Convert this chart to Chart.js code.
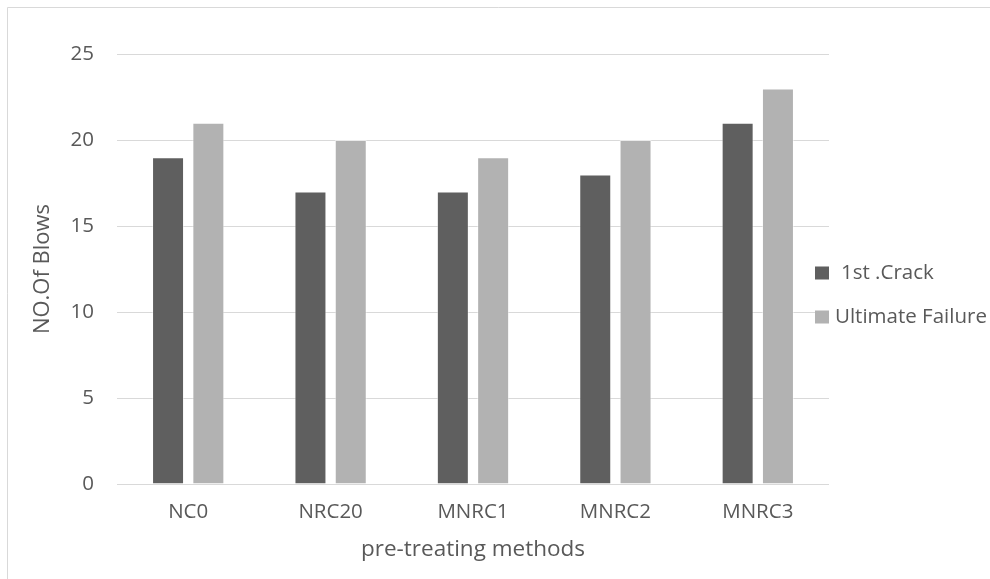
<!DOCTYPE html>
<html>
<head>
<meta charset="utf-8">
<script src="https://cdn.jsdelivr.net/npm/chart.js@4.4.1/dist/chart.umd.min.js"></script>
<style>
  html, body { margin: 0; padding: 0; background: #ffffff; }
  #wrap { width: 990px; height: 579px; position: relative; }
</style>
</head>
<body>
<div id="wrap"><canvas id="chart" width="990" height="579"></canvas></div>
<script>
// Number of blows per pre-treating method
const categories = ['NC0', 'NRC20', 'MNRC1', 'MNRC2', 'MNRC3'];
const firstCrack = [19, 17, 17, 18, 21];
const ultimateFailure = [21, 20, 19, 20, 23];
const seriesNames = ['1st .Crack', 'Ultimate Failure'];
const yTicks = [0, 5, 10, 15, 20, 25];

const FONT = '"Open Sans", "DejaVu Sans", sans-serif';
const TEXT = '#595959';

// Outer frame of the chart
const framePlugin = {
  id: 'frame',
  beforeDraw(chart) {
    const ctx = chart.ctx;
    ctx.save();
    ctx.fillStyle = '#ffffff';
    ctx.fillRect(0, 0, chart.width, chart.height);
    ctx.strokeStyle = '#d9d9d9';
    ctx.lineWidth = 1;
    ctx.beginPath();
    ctx.moveTo(7.5, chart.height);
    ctx.lineTo(7.5, 7.5);
    ctx.lineTo(chart.width, 7.5);
    ctx.stroke();
    ctx.restore();
  }
};

// Legend at the right, drawn from the datasets
const sideLegend = {
  id: 'sideLegend',
  afterDraw(chart) {
    const ctx = chart.ctx;
    const area = chart.chartArea;
    ctx.save();
    ctx.font = '20.5px ' + FONT;
    ctx.textBaseline = 'middle';
    ctx.textAlign = 'left';
    const textX = [841, 835];
    const midY = (area.top + area.bottom) / 2;
    chart.data.datasets.forEach((ds, i) => {
      const cy = midY + 4 + i * 44;
      ctx.fillStyle = ds.backgroundColor;
      ctx.fillRect(area.right - 14, cy - 6.5, 14, 13);
      ctx.fillStyle = TEXT;
      ctx.fillText(ds.label, textX[i], cy);
    });
    ctx.restore();
  }
};

new Chart(document.getElementById('chart'), {
  type: 'bar',
  data: {
    labels: categories,
    datasets: [
      {
        label: seriesNames[0],
        data: firstCrack,
        backgroundColor: '#5f5f5f',
        borderColor: 'rgba(255,255,255,0.45)',
        borderWidth: 1,
        categoryPercentage: 0.566,
        barPercentage: 0.794
      },
      {
        label: seriesNames[1],
        data: ultimateFailure,
        backgroundColor: '#b2b2b2',
        borderColor: 'rgba(255,255,255,0.45)',
        borderWidth: 1,
        categoryPercentage: 0.566,
        barPercentage: 0.794
      }
    ]
  },
  options: {
    responsive: false,
    animation: false,
    layout: { padding: { left: 0, top: 54, right: 161, bottom: 0 } },
    plugins: {
      legend: { display: false },
      tooltip: { enabled: false }
    },
    scales: {
      x: {
        grid: { display: false, drawTicks: false },
        border: { display: false },
        ticks: { color: TEXT, font: { family: FONT, size: 20.5 }, padding: 16 },
        title: {
          display: true,
          text: 'pre-treating methods',
          color: TEXT,
          font: { family: FONT, size: 22.5 },
          padding: { top: 0, bottom: 16 }
        },
        afterFit(scale) { scale.height = 579 - 484; }
      },
      y: {
        min: 0,
        max: 25,
        afterBuildTicks(scale) { scale.ticks = yTicks.map(v => ({ value: v })); },
        grid: { color: '#d9d9d9', lineWidth: 1, drawTicks: false },
        border: { display: false },
        ticks: { color: TEXT, font: { family: FONT, size: 20.5 }, padding: 23 },
        title: {
          display: true,
          text: 'NO.Of Blows',
          color: TEXT,
          font: { family: FONT, size: 22 },
          padding: { top: 30, bottom: 0 }
        },
        afterFit(scale) { scale.width = 117; }
      }
    }
  },
  plugins: [framePlugin, sideLegend]
});
</script>
</body>
</html>
